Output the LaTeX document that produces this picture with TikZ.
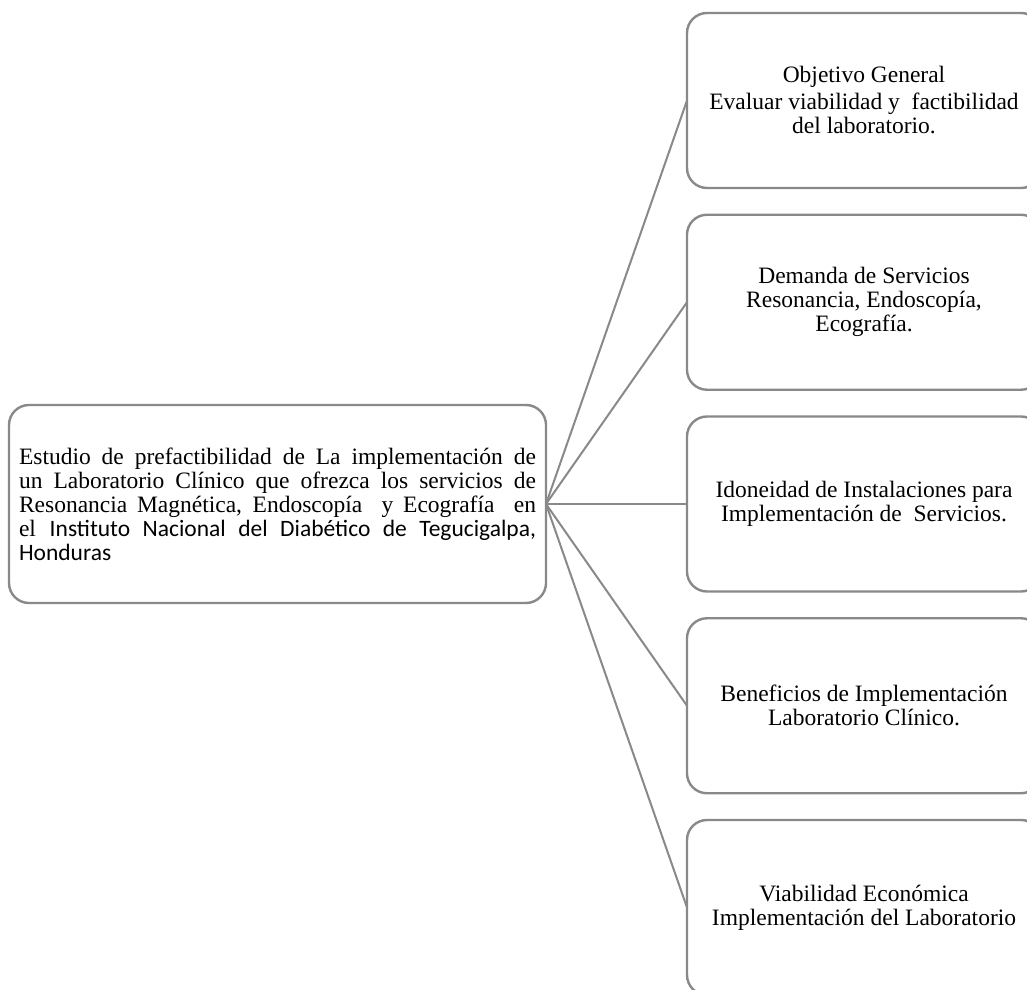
\documentclass[tikz,border=0pt]{standalone}
\usepackage{fontspec}
\setmainfont{Liberation Serif}
\newfontfamily\calibrifont{Carlito}
\usetikzlibrary{positioning}

\definecolor{boxgray}{RGB}{137,137,137}

\begin{document}
\begin{tikzpicture}[x=1pt, y=1pt]

        % Styles of the boxes and of the lines that join them
        \tikzset{
            box/.style={draw=boxgray, line width=2.4pt, rounded corners=20pt,
                outer sep=0pt, inner sep=0pt, align=center,
                minimum width=354pt, minimum height=175pt,
                font=\fontsize{23.5}{24}\selectfont},
            link/.style={draw=boxgray, line width=2pt},
        }

        % Page of the reference, the right boxes run past its edge
        \clip (0, 0) rectangle (1027, 989);

        % Main box on the left, every line but the last one is justified
        \node[box, minimum width=537pt, minimum height=198pt,
              text width=517pt, align=justify] (estudio) at (277.5, 485) {%
            Estudio de prefactibilidad de La implementación de\linebreak
            un Laboratorio Clínico que ofrezca los servicios de\linebreak
            Resonancia Magnética, Endoscopía\ \ y Ecografía\ \ en\linebreak
            el {\calibrifont Instituto Nacional del Diabético de Tegucigalpa,}\linebreak
            {\calibrifont Honduras}};

        % Boxes on the right, one under the other
        \node[box] (objetivo) at (864, 888.5)
            {Objetivo General\\[3pt] Evaluar viabilidad y\ \ factibilidad\\ del laboratorio.};
        \node[box, below=26.75pt of objetivo] (demanda)
            {Demanda de Servicios\\ Resonancia, Endoscopía,\\ Ecografía.};
        \node[box, below=26.75pt of demanda] (idoneidad)
            {Idoneidad de Instalaciones para\\ Implementación de\ \ Servicios.};
        \node[box, below=26.75pt of idoneidad] (beneficios)
            {Beneficios de Implementación\\ Laboratorio Clínico.};
        \node[box, below=26.75pt of beneficios] (viabilidad)
            {Viabilidad Económica\\ Implementación del Laboratorio};

        % Lines from the main box to every box on the right
        \foreach \n in {objetivo, demanda, idoneidad, beneficios, viabilidad}
            \draw[link] (estudio.east) -- (\n.west);

\end{tikzpicture}
\end{document}
